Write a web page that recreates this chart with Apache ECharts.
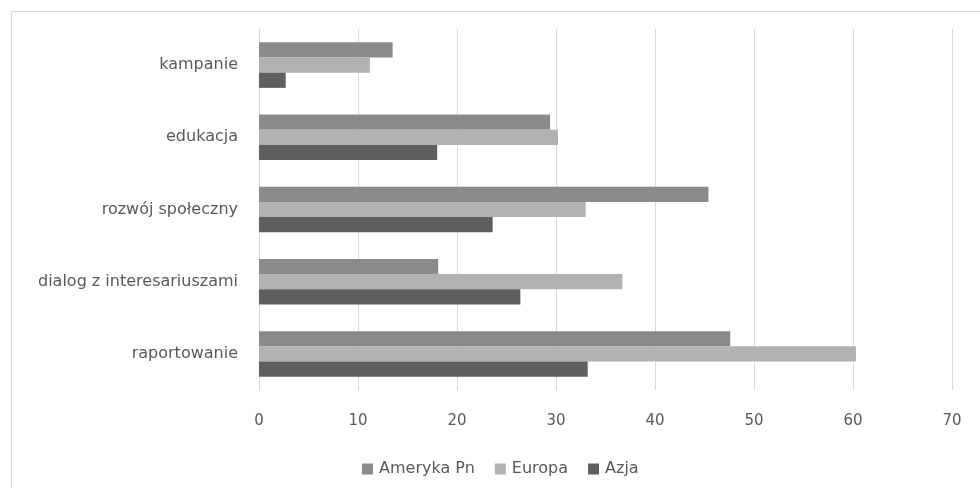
<!DOCTYPE html>
<html>
<head>
<meta charset="utf-8">
<script src="https://cdn.jsdelivr.net/npm/echarts@6/dist/echarts.min.js"></script>
<style>
html,body{margin:0;padding:0;background:#fff;}
#chart{width:980px;height:488px;}
</style>
</head>
<body>
<div id="chart"></div>
<script>
const categories = ['raportowanie', 'dialog z interesariuszami', 'rozwój społeczny', 'edukacja', 'kampanie'];
const seriesNames = ['Ameryka Pn', 'Europa', 'Azja'];
const amerykaPn = [47.6, 18.1, 45.4, 29.4, 13.5];
const europa = [60.3, 36.7, 33.0, 30.2, 11.2];
const azja = [33.2, 26.4, 23.6, 18.0, 2.7];
const xTicks = [0, 10, 20, 30, 40, 50, 60, 70];

const colors = {'Ameryka Pn': '#8a8a8a', 'Europa': '#b2b2b2', 'Azja': '#5f5f5f'};
const dataMap = {'Ameryka Pn': amerykaPn, 'Europa': europa, 'Azja': azja};
const font = '"DejaVu Sans", sans-serif';

const chart = echarts.init(document.getElementById('chart'));
chart.setOption({
  animation: false,
  backgroundColor: '#ffffff',
  graphic: [{
    type: 'rect', left: 9, top: 9, z: -10,
    shape: {width: 1000, height: 500},
    style: {fill: 'none', stroke: '#d9d9d9', lineWidth: 1}
  }],
  grid: {left: 259, right: 28, top: 29, bottom: 98, containLabel: false},
  legend: {
    data: seriesNames,
    top: 456,
    left: 357,
    itemWidth: 11, itemHeight: 11, itemGap: 20,
    icon: 'rect',
    textStyle: {color: '#595959', fontSize: 16, fontFamily: font, padding: [0, 0, 0, 1]}
  },
  xAxis: {
    type: 'value',
    min: xTicks[0], max: xTicks[xTicks.length - 1], interval: 10,
    axisLine: {show: false},
    axisTick: {show: false},
    splitLine: {lineStyle: {color: '#d9d9d9', width: 1}},
    axisLabel: {color: '#595959', fontSize: 15, fontFamily: font, margin: 24}
  },
  yAxis: {
    type: 'category',
    data: categories,
    axisLine: {show: true, lineStyle: {color: '#d9d9d9'}},
    axisTick: {show: false},
    axisLabel: {color: '#595959', fontSize: 16, fontFamily: font, margin: 21}
  },
  series: seriesNames.map(n => ({
    name: n,
    type: 'bar',
    data: dataMap[n],
    barGap: '0%',
    barCategoryGap: '37%',
    itemStyle: {color: colors[n]}
  }))
});
</script>
</body>
</html>
